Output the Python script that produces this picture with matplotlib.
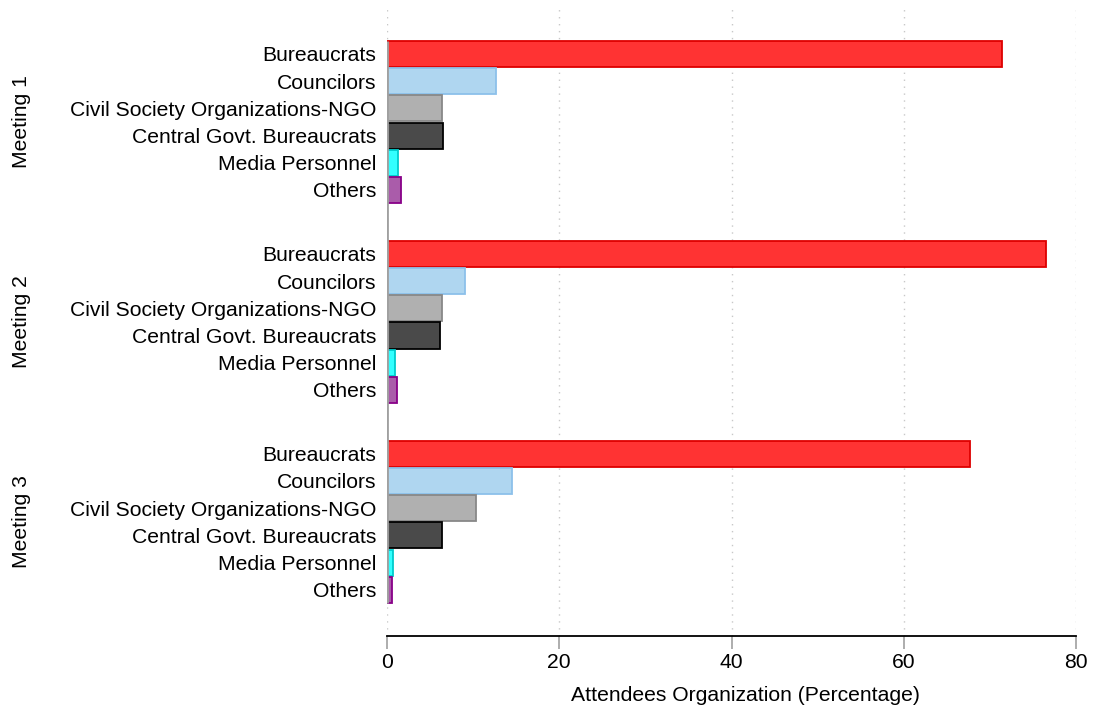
import matplotlib.pyplot as plt
import numpy as np

plt.rcParams['font.family'] = ['Liberation Sans', 'DejaVu Sans']

meetings = ["Meeting 1", "Meeting 2", "Meeting 3"]
categories = ["Bureaucrats", "Councilors", "Civil Society Organizations-NGO",
              "Central Govt. Bureaucrats", "Media Personnel", "Others"]
# percentage of attendees per organisation, one list per meeting
meeting1 = [71.4, 12.7, 6.4, 6.5, 1.3, 1.6]
meeting2 = [76.5, 9.0, 6.4, 6.1, 0.9, 1.2]
meeting3 = [67.7, 14.5, 10.3, 6.4, 0.7, 0.6]
values = [meeting1, meeting2, meeting3]

fills = ["#ff3333", "#afd6f0", "#b0b0b0", "#4a4a4a", "#33ffff", "#aa5caa"]
edges = ["#dd0000", "#8cc0ea", "#888888", "#000000", "#00cccc", "#880088"]

fs = 15.2

fig = plt.figure(figsize=(10.96, 7.10), dpi=100)
ax = fig.add_axes([387 / 1096, 1 - 636 / 710, 689 / 1096, 628 / 710])

slot = 1.0
group_gap = 7.35
first = 1.69
bar_h = 0.96

yticks, ylabels = [], []
for g, vals in enumerate(values):
    ys = first + g * group_gap + np.arange(len(categories)) * slot
    ax.barh(ys, vals, height=bar_h, color=fills, edgecolor=edges,
            linewidth=1.3, zorder=3)
    yticks.extend(ys)
    ylabels.extend(categories)
    ax.text(-0.531, 1 - (ys.mean() / 23.09), meetings[g], rotation=90,
            transform=ax.transAxes, ha="center", va="center", fontsize=fs)

# baseline behind the bars
ax.vlines(0, yticks[0] - bar_h / 2, yticks[-1] + bar_h / 2,
          color="#a0a0a0", linewidth=2, zorder=4)

ax.set_xlim(0, 80)
ax.set_ylim(23.09, 0)
ax.set_xticks([0, 20, 40, 60, 80])
ax.set_yticks(yticks)
ax.set_yticklabels(ylabels)
ax.tick_params(axis="y", length=0, pad=7.5, labelsize=fs)
ax.tick_params(axis="x", length=9, color="#a0a0a0", width=1.2,
               labelsize=fs, pad=3)
ax.xaxis.grid(True, linestyle=(0, (1, 4)), color="#c8c8c8", linewidth=1)
ax.set_axisbelow(True)
for side in ["top", "right", "left"]:
    ax.spines[side].set_visible(False)
ax.spines["bottom"].set_linewidth(1.3)
ax.set_xlabel("Attendees Organization (Percentage)", fontsize=fs)
ax.xaxis.set_label_coords(0.52, -0.079)

fig.savefig("out.png", dpi=100)
